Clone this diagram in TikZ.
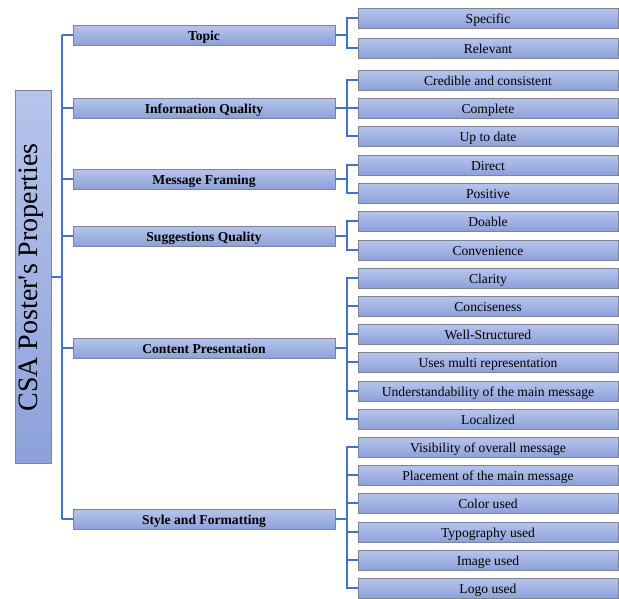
\documentclass[tikz,border=0pt]{standalone}
\usepackage{fontspec}
\setmainfont{Liberation Serif}
\newfontfamily\rootfont{Liberation Serif}[Ligatures=TeXOff]
\begin{document}
\begin{tikzpicture}[x=1pt,y=-1pt,
  conn/.style={draw=linkblue,line width=2pt},
  boxbase/.style={draw=boxline,line width=0.8pt,top color=boxtop,bottom color=boxbot,
    inner sep=0pt},
  rootbox/.style={boxbase,minimum width=36pt,minimum height=373pt},
  catbox/.style={boxbase,minimum width=262pt,minimum height=20pt,text height=10.5pt,text depth=0.5pt,
    font=\fontsize{13.6}{15}\selectfont\bfseries},
  itembox/.style={boxbase,minimum width=260pt,minimum height=20pt,text height=10.5pt,text depth=0.5pt,
    font=\fontsize{13.6}{15}\selectfont},
]
\definecolor{linkblue}{HTML}{4472C4}
\definecolor{boxline}{HTML}{80848F}
\definecolor{boxtop}{HTML}{B7C4EC}
\definecolor{boxbot}{HTML}{8DA1DA}
\useasboundingbox (0,0) rectangle (619,598);

% root
\node[rootbox] (root) at (33,276.5) {};
\node[rotate=90,font=\rootfont\fontsize{28}{32}\selectfont] (roottext) at (31.5,277.5) {CSA Poster's Properties};

% categories
\node[catbox] (c1) at (204,35)  {Topic};
\node[catbox] (c2) at (204,108) {Information Quality};
\node[catbox] (c3) at (204,179) {Message Framing};
\node[catbox] (c4) at (204,236) {Suggestions Quality};
\node[catbox] (c5) at (204,348) {Content Presentation};
\node[catbox] (c6) at (204,519) {Style and Formatting};

% items
\node[itembox] (i1)  at (488,18)  {Specific};
\node[itembox] (i2)  at (488,48)  {Relevant};
\node[itembox] (i3)  at (488,80)  {Credible and consistent};
\node[itembox] (i4)  at (488,108) {Complete};
\node[itembox] (i5)  at (488,136) {Up to date};
\node[itembox] (i6)  at (488,165) {Direct};
\node[itembox] (i7)  at (488,193) {Positive};
\node[itembox] (i8)  at (488,221) {Doable};
\node[itembox] (i9)  at (488,250) {Convenience};
\node[itembox] (i10) at (488,278) {Clarity};
\node[itembox] (i11) at (488,306) {Conciseness};
\node[itembox] (i12) at (488,334) {Well-Structured};
\node[itembox] (i13) at (488,362) {Uses multi representation};
\node[itembox] (i14) at (488,391) {Understandability of the main message};
\node[itembox] (i15) at (488,419) {Localized};
\node[itembox] (i16) at (488,447) {Visibility of overall message};
\node[itembox] (i17) at (488,475) {Placement of the main message};
\node[itembox] (i18) at (488,503) {Color used};
\node[itembox] (i19) at (488,532) {Typography used};
\node[itembox] (i20) at (488,560) {Image used};
\node[itembox] (i21) at (488,588) {Logo used};

% trunk from the root to the categories
\coordinate (trunk) at (62,0);
\draw[conn] (root.east) -- (root.east -| trunk);
\draw[conn] (c1.west -| trunk) -- (c6.west -| trunk);
\foreach \c in {c1,c2,c3,c4,c5,c6}
  \draw[conn] (\c.west) -- (\c.west -| trunk);

% branches from each category to its items
\foreach \c/\items in {c1/{i1,i2},c2/{i3,i4,i5},c3/{i6,i7},c4/{i8,i9},
                       c5/{i10,i11,i12,i13,i14,i15},c6/{i16,i17,i18,i19,i20,i21}}
  \foreach \i in \items
    \draw[conn] (\c.east) -- ++(12,0) |- (\i.west);
\end{tikzpicture}
\end{document}
